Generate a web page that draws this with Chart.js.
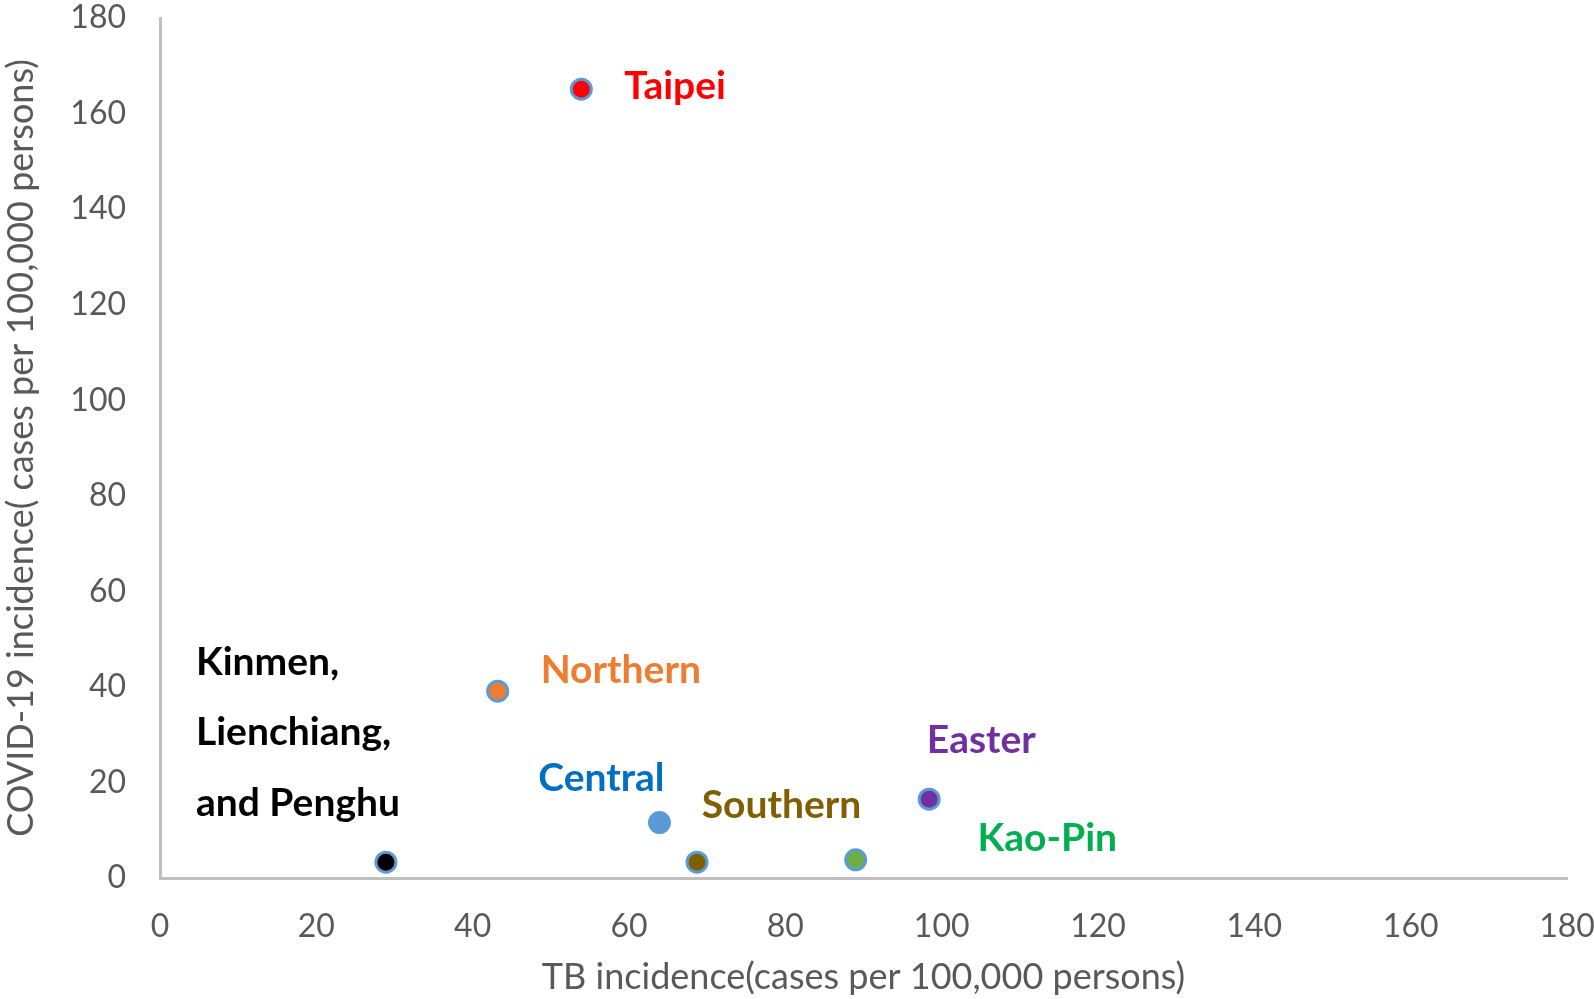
<!DOCTYPE html>
<html>
<head>
<meta charset="utf-8">
<script src="https://cdn.jsdelivr.net/npm/chart.js@4"></script>
<style>
  html, body { margin: 0; padding: 0; background: #fff; }
  #wrap { width: 1594px; height: 999px; }
</style>
</head>
<body>
<div id="wrap"><canvas id="chart" width="1594" height="999"></canvas></div>
<script>
// data
const regions = ['Taipei', 'Northern', 'Central', 'Southern', 'Kao-Pin', 'Easter', 'Kinmen, Lienchiang, and Penghu'];
const tbIncidence = [53.9, 43.2, 63.9, 68.7, 89.0, 98.4, 28.9];
const covidIncidence = [165.1, 39.1, 11.6, 3.3, 3.8, 16.5, 3.3];
const xTicks = [0, 20, 40, 60, 80, 100, 120, 140, 160, 180];
const yTicks = [0, 20, 40, 60, 80, 100, 120, 140, 160, 180];

// point fills and label text
const fillColors = ['#FF0000', '#ED7D31', '#5B9BD5', '#7F6000', '#70AD47', '#7030A0', '#000000'];
const labelColors = ['#FF0000', '#ED7D31', '#0070C0', '#7F6000', '#00B050', '#7030A0', '#000000'];
const labelLines = [['Taipei'], ['Northern'], ['Central'], ['Southern'], ['Kao-Pin'], ['Easter'], ['Kinmen,', 'Lienchiang,', 'and Penghu']];
// where each label sits, in axis units (left edge, middle of first line)
const labelAt = [[59.4, 165.6], [48.7, 43.5], [48.4, 20.9], [69.3, 15.1], [104.6, 8.2], [98.1, 28.7], [4.6, 45.2]];
const lineStep = 14.8; // axis units between label lines

const GRAY = '#595959';
const FONT = 'Lato, "Open Sans", sans-serif';

const pointLabels = {
    id: 'pointLabels',
    afterDatasetsDraw(chart) {
        const { ctx, scales: { x, y } } = chart;
        ctx.save();
        ctx.font = 'bold 39px ' + FONT;
        ctx.textAlign = 'left';
        ctx.textBaseline = 'middle';
        labelLines.forEach((lines, i) => {
            ctx.fillStyle = labelColors[i];
            lines.forEach((txt, j) => {
                const px = x.getPixelForValue(labelAt[i][0]);
                const py = y.getPixelForValue(labelAt[i][1] - j * lineStep);
                ctx.fillText(txt, px, py);
            });
        });
        ctx.restore();
    }
};

new Chart(document.getElementById('chart'), {
    type: 'scatter',
    data: {
        datasets: [{
            label: 'Regions',
            data: regions.map((r, i) => ({ x: tbIncidence[i], y: covidIncidence[i] })),
            backgroundColor: fillColors,
            borderColor: '#5B9BD5',
            borderWidth: 3,
            pointRadius: 10,
            pointHoverRadius: 10
        }]
    },
    options: {
        responsive: false,
        animation: false,
        layout: { padding: { top: 18, right: 27, left: 0, bottom: 0 } },
        plugins: {
            legend: { display: false },
            tooltip: { enabled: false }
        },
        scales: {
            x: {
                type: 'linear',
                min: 0, max: 180,
                afterBuildTicks: s => { s.ticks = xTicks.map(v => ({ value: v })); },
                afterFit: s => { s.height = 121; s.paddingLeft = 0; s.paddingRight = 0; },
                grid: { display: false, drawTicks: false, tickLength: 0 },
                border: { display: true, color: '#BFBFBF', width: 3 },
                ticks: { color: GRAY, font: { family: FONT, size: 32 }, padding: 29, maxRotation: 0 },
                title: {
                    display: true,
                    text: 'TB incidence(cases per 100,000 persons)',
                    color: GRAY,
                    font: { family: FONT, size: 36 },
                    padding: { top: 4, bottom: 0 }
                }
            },
            y: {
                type: 'linear',
                min: 0, max: 180,
                afterBuildTicks: s => { s.ticks = yTicks.map(v => ({ value: v })); },
                afterFit: s => { s.width = 160; s.paddingTop = 0; s.paddingBottom = 0; },
                grid: { display: false, drawTicks: false, tickLength: 0 },
                border: { display: true, color: '#BFBFBF', width: 3 },
                ticks: { color: GRAY, font: { family: FONT, size: 32 }, padding: 34 },
                title: {
                    display: true,
                    text: 'COVID-19 incidence( cases per 100,000 persons)',
                    color: GRAY,
                    font: { family: FONT, size: 36 },
                    padding: { top: 0, bottom: 0 }
                }
            }
        }
    },
    plugins: [pointLabels]
});
</script>
</body>
</html>
